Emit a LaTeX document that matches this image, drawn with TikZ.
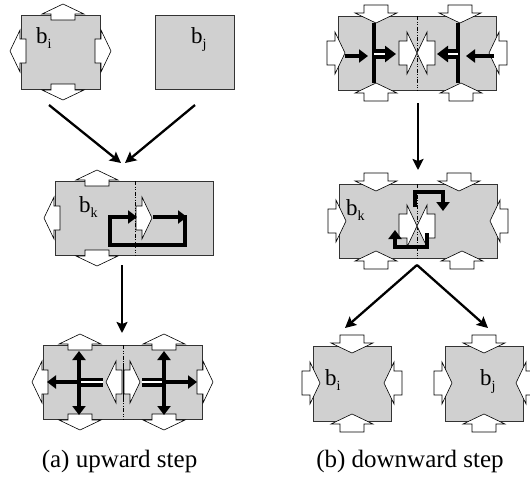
\documentclass[tikz,border=0pt]{standalone}
\usepackage{fontspec}
\setmainfont{Liberation Serif}
\usetikzlibrary{arrows.meta}
\definecolor{boxgray}{RGB}{208,208,208}
\newcommand\outarr[3]{\begin{scope}[shift={(#1,#2)},rotate=#3]\draw[wa] (-5,-12) -- (1,-12) -- (1,-21) -- (11,0) -- (1,21) -- (1,12) -- (-5,12) -- cycle;\end{scope}}
\newcommand\inarr[3]{\begin{scope}[shift={(#1,#2)},rotate=#3]\draw[wa] (-11,-12) -- (-3,-12) -- (-3,-21) -- (7,0) -- (-3,21) -- (-3,12) -- (-11,12) -- cycle;\end{scope}}
\newcommand\lab[1]{b\raisebox{-5pt}{\fontsize{14}{14}\selectfont #1}}
\begin{document}
\begin{tikzpicture}[x=1pt,y=-1pt,
  blk/.style={rectangle, fill=boxgray, draw=black!80, line width=0.8pt, inner sep=0pt},
  wa/.style={fill=white, draw=black, line width=0.6pt},
  dd/.style={line width=0.8pt, dash pattern=on 4pt off 1.5pt on 1pt off 1.5pt on 1pt off 1.5pt},
  conn/.style={line width=2.3pt, -{Stealth[length=11pt,width=11pt,inset=2pt]}},
  tarr/.style={line width=4.5pt, -{Triangle[length=9pt,width=13pt]}},
  tbar/.style={line width=4.5pt},
  lbl/.style={font=\fontsize{23}{23}\selectfont, inner sep=0pt, anchor=base west},
  captxt/.style={font=\fontsize{25}{25}\selectfont, inner sep=0pt},
]
\useasboundingbox (0,0) rectangle (530,483);

% ================= (a) upward step =================
\node[blk, minimum width=79pt, minimum height=74pt] (ai) at (60.5,52) {};
\outarr{63}{15}{90}\outarr{21}{51}{180}\outarr{100}{51}{0}\outarr{63}{89}{-90}
\node[lbl] (ail) at (36,43) {\lab{i}};
\node[blk, minimum width=79pt, minimum height=74pt] (aj) at (194.5,52) {};
\node[lbl] (ajl) at (191,43) {\lab{j}};

\coordinate (a1s) at (49,105); \coordinate (a2s) at (195,105);
\coordinate (a1e) at (121,163); \coordinate (a2e) at (125,163);
\draw[conn] (a1s) -- (a1e);
\draw[conn] (a2s) -- (a2e);

\node[blk, minimum width=158pt, minimum height=74pt] (ak) at (134,218) {};
\draw[dd] (135,181) -- (135,255);
\outarr{97}{181}{90}\outarr{55}{218}{180}\outarr{97}{255}{-90}\outarr{141}{218}{0}
\node[lbl] (akl) at (79,212) {\lab{k}};
\draw[tbar, line join=miter] (185,215) -- (185,245) -- (110,245) -- (110,215);
\draw[tarr] (110,217) -- (137,217);
\draw[tarr] (153,217) -- (187,217);

\coordinate (a3s) at (122,265); \coordinate (a3e) at (122,333);
\draw[conn] (a3s) -- (a3e);

\node[blk, minimum width=159pt, minimum height=74pt] (am) at (122.5,382) {};
\draw[dd] (123,345) -- (123,419);
\outarr{80}{345}{90}\outarr{164}{345}{90}\outarr{80}{419}{-90}\outarr{164}{419}{-90}
\outarr{43}{382}{180}\outarr{202}{382}{0}
\outarr{129}{382}{0}\outarr{117}{382}{180}
\draw[line width=0.6pt] (123,363) -- (123,401);
% left half
\draw[line width=9pt] (79,382) -- (103,382);
\draw[white, line width=1.3pt] (79,382) -- (103,382);
\draw[tarr] (79,382) -- (79,351);
\draw[tarr] (79,382) -- (79,415);
\draw[tarr] (79,382) -- (47,382);
% right half
\draw[line width=9pt] (164,382) -- (142,382);
\draw[white, line width=1.3pt] (164,382) -- (142,382);
\draw[tarr] (164,382) -- (164,351);
\draw[tarr] (164,382) -- (164,415);
\draw[tarr] (164,382) -- (197,382);

\node[captxt] (capa) at (119.5,461) {(a) upward step};

% ================= (b) downward step =================
\node[blk, minimum width=158pt, minimum height=74pt] (bt) at (417,53) {};
\draw[dd] (417,16) -- (417,90);
\inarr{376}{16}{-90}\inarr{460}{16}{-90}\inarr{376}{90}{90}\inarr{461}{90}{90}
\inarr{338}{53}{0}\inarr{496}{53}{180}
\inarr{410}{53}{0}\inarr{424}{53}{180}
\draw[tbar] (374,23) -- (374,83);
\draw[tarr] (345,56) -- (368,56);
\draw[line width=10pt, -{Triangle[length=11pt,width=16pt]}] (374,54) -- (396,54);
\draw[white, line width=1.3pt] (374,54) -- (385,54);
\draw[tbar] (458,23) -- (458,83);
\draw[tarr] (494,56) -- (466,56);
\draw[line width=10pt, -{Triangle[length=11pt,width=16pt]}] (458,54) -- (437,54);
\draw[white, line width=1.3pt] (458,54) -- (448,54);

\coordinate (b1s) at (418,103); \coordinate (b1e) at (418,170);
\draw[conn] (b1s) -- (b1e);

\node[blk, minimum width=158pt, minimum height=74pt] (bk) at (418,221) {};
\draw[dd] (417,184) -- (417,258);
\inarr{376}{184}{-90}\inarr{459}{184}{-90}\inarr{376}{258}{90}\inarr{462}{258}{90}
\inarr{339}{221}{0}\inarr{497}{221}{180}
\inarr{410}{226}{0}\inarr{424}{226}{180}
\node[lbl] (bkl) at (346,215) {\lab{k}};
\draw[tbar, line join=miter] (415,207) -- (415,192) -- (443,192) -- (443,200);
\draw[tarr] (443,195) -- (443,211);
\draw[tbar, line join=miter] (427,233) -- (427,247) -- (395,247) -- (395,238);
\draw[tarr] (395,242) -- (395,230);

\coordinate (b2s) at (417,265); \coordinate (b2e) at (345,328); \coordinate (b3e) at (488,328);
\draw[conn] (b2s) -- (b2e);
\draw[conn] (b2s) -- (b3e);

\node[blk, minimum width=78pt, minimum height=75pt] (bi) at (352,383.5) {};
\inarr{352}{346}{-90}\inarr{352}{421}{90}\inarr{313}{383}{0}\inarr{391}{383}{180}
\node[lbl] (bil) at (325,385) {\lab{i}};
\node[blk, minimum width=78pt, minimum height=75pt] (bj) at (484,383.5) {};
\inarr{484}{346}{-90}\inarr{484}{421}{90}\inarr{445}{383}{0}\inarr{523}{383}{180}
\node[lbl] (bjl) at (480,385) {\lab{j}};

\node[captxt] (capb) at (410,461) {(b) downward step};
\end{tikzpicture}
\end{document}
